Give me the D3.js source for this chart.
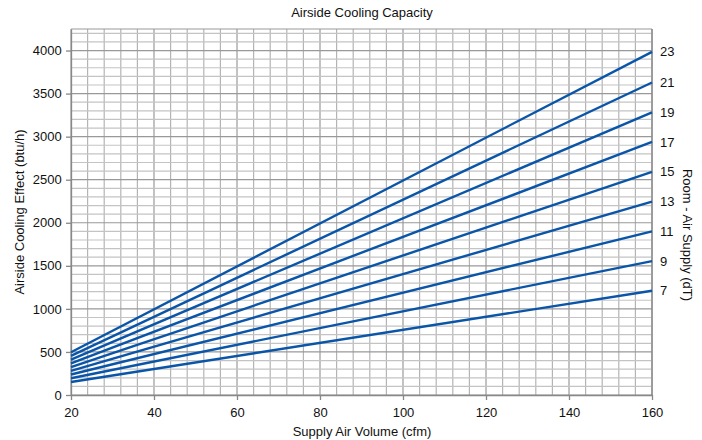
<!DOCTYPE html>
<html><head><meta charset="utf-8">
<script src="https://cdn.jsdelivr.net/npm/d3@7"></script>
<style>
body{margin:0;background:#fff;}
text{font-family:"Liberation Sans",Arial,sans-serif;fill:#111;}
</style></head>
<body><svg id="c" width="702" height="440"></svg>
<script>
const deltaT = [7, 9, 11, 13, 15, 17, 19, 21, 23];
const cfmPoints = [20, 160];
const capAt20 = [151, 194, 238, 281, 324, 367, 410, 454, 497];
const capAt160 = [1210, 1555, 1900, 2246, 2592, 2938, 3283, 3629, 3985];
const xTicks = [20, 40, 60, 80, 100, 120, 140, 160];
const yTicks = [0, 500, 1000, 1500, 2000, 2500, 3000, 3500, 4000];

const svg = d3.select("#c");
const m = {l:71, r:50, t:29, b:45};
const W = 702, H = 440;
const x = d3.scaleLinear().domain([20,160]).range([m.l, W-m.r]);
const y = d3.scaleLinear().domain([0,4250]).range([H-m.b, m.t]);

const g = svg.append("g");
// grid
const vMinor = d3.range(20, 160.01, 4);
g.selectAll(".vg").data(vMinor).join("line")
  .attr("x1", d=>x(d)).attr("x2", d=>x(d)).attr("y1", y(0)).attr("y2", y(4250))
  .attr("stroke", (d,i)=> i%5===0 ? "#999" : "#b4b4b4").attr("stroke-width",1.2);
const hMinor = d3.range(0, 4250.1, 100);
g.selectAll(".hg").data(hMinor).join("line")
  .attr("x1", x(20)).attr("x2", x(160)).attr("y1", d=>y(d)).attr("y2", d=>y(d))
  .attr("stroke", (d,i)=> i%5===0 ? "#999" : "#c4c4c4").attr("stroke-width",1.2);
g.append("line").attr("x1",x(20)).attr("x2",x(160)).attr("y1",y(4250)).attr("y2",y(4250)).attr("stroke","#999").attr("stroke-width",1.2);

// axes
const xa = svg.append("g").attr("transform",`translate(0,${y(0)})`)
  .call(d3.axisBottom(x).tickValues(xTicks).tickFormat(d3.format("d")).tickSize(5).tickSizeOuter(0));
const ya = svg.append("g").attr("transform",`translate(${x(20)},0)`)
  .call(d3.axisLeft(y).tickValues(yTicks).tickFormat(d3.format("d")).tickSize(5).tickSizeOuter(0));
[xa,ya].forEach(a=>{a.selectAll("path,line").attr("stroke","#888").attr("stroke-width",1.3);
  a.selectAll("text").attr("font-size",13).attr("fill","#111").style("font-family","Liberation Sans, Arial, sans-serif");});
xa.selectAll("text").attr("dy","1.1em");
ya.selectAll("text").attr("dx","-0.1em");
svg.append("line").attr("x1",x(160)).attr("x2",x(160)).attr("y1",y(0)).attr("y2",y(4250)).attr("stroke","#888").attr("stroke-width",1.3);

// lines
const line = d3.line().x(d=>x(d[0])).y(d=>y(d[1]));
deltaT.forEach((dt,i)=>{
  const pts = [[cfmPoints[0], capAt20[i]],[cfmPoints[1], capAt160[i]]];
  svg.append("path").attr("d", line(pts)).attr("fill","none")
    .attr("stroke","#0a55a8").attr("stroke-width",2.4);
  svg.append("text").attr("x", x(160)+8).attr("y", y(capAt160[i])).attr("dy","0.35em")
    .attr("font-size",13).text(dt);
});

// titles
svg.append("text").attr("x",362).attr("y",17).attr("text-anchor","middle").attr("font-size",13).text("Airside Cooling Capacity");
svg.append("text").attr("x",362).attr("y",436).attr("text-anchor","middle").attr("font-size",13).text("Supply Air Volume (cfm)");
svg.append("text").attr("transform","translate(24,212) rotate(-90)").attr("text-anchor","middle").attr("font-size",13).text("Airside Cooling Effect (btu/h)");
svg.append("text").attr("transform","translate(683,235) rotate(90)").attr("text-anchor","middle").attr("font-size",13).text("Room - Air Supply (dT)");
</script></body></html>
